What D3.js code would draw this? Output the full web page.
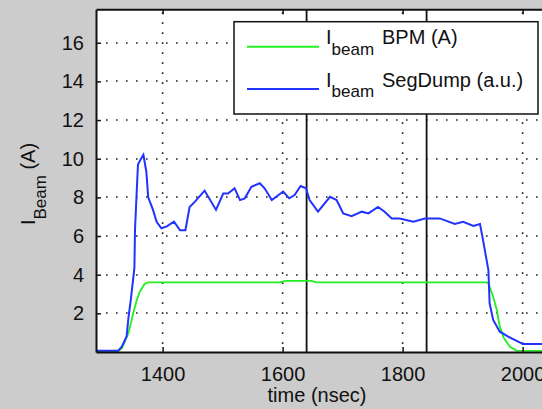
<!DOCTYPE html>
<html lang="en">
  <head>
    <meta charset="utf-8">
    <title>Beam current</title>
    <script src="https://cdn.jsdelivr.net/npm/d3@7"></script>
    <style>
      body { margin: 0; background: #cccccc; }
      text { font-family: "Liberation Sans", Arial, Helvetica, sans-serif; fill: #111; }
    </style>
  </head>
  <body>
    <script>

      /*
      DATA
       */

      // BPM beam current (A)
      const bpm_time = [1289, 1326, 1332, 1343, 1351, 1357, 1362, 1370, 1376, 1595, 1605, 1648, 1656,
        1940, 1943, 1951, 1957, 1962, 1969, 1979, 1990, 2100];
      const bpm_value = [0.05, 0.05, 0.19, 0.97, 2.0, 2.69, 3.12, 3.52, 3.6, 3.6, 3.68, 3.68, 3.6,
        3.6, 3.55, 2.86, 2.17, 1.31, 0.71, 0.27, 0.07, 0.05];

      // SegDump signal (a.u.)
      const seg_time = [1289, 1326, 1332, 1340, 1343, 1347, 1353, 1354, 1357, 1359, 1364, 1368, 1373,
        1376, 1384, 1390, 1398, 1407, 1419, 1429, 1438, 1445, 1454, 1470, 1489, 1501, 1509, 1520,
        1529, 1537, 1548, 1562, 1570, 1582, 1601, 1611, 1620, 1630, 1639, 1645, 1659, 1679, 1690,
        1701, 1715, 1732, 1743, 1759, 1770, 1782, 1795, 1818, 1837, 1862, 1887, 1901, 1918, 1929,
        1933, 1937, 1943, 1945, 1951, 1962, 1976, 1996, 2000, 2100];
      const seg_value = [0.07, 0.07, 0.27, 0.8, 1.75, 2.7, 4.35, 6.3, 8.4, 9.7, 10.0, 10.2, 9.3,
        8.0, 7.35, 6.74, 6.4, 6.5, 6.74, 6.3, 6.3, 7.5, 7.78, 8.35, 7.35, 8.2, 8.2, 8.47,
        7.86, 7.95, 8.55, 8.73, 8.47, 7.86, 8.3, 7.95, 8.12, 8.59, 8.47, 7.86, 7.26, 8.03, 7.86,
        7.17, 7.03, 7.26, 7.17, 7.5, 7.26, 6.91, 6.91, 6.74, 6.91, 6.91, 6.62, 6.74, 6.52, 6.62,
        5.97, 5.28, 4.24, 2.52, 1.66, 1.05, 0.79, 0.48, 0.41, 0.41];

      const x_ticks = [1400, 1600, 1800, 2000];
      const y_ticks = [2, 4, 6, 8, 10, 12, 14, 16];
      const marker_times = [1640, 1840]; // solid vertical markers

      const legend_labels = [
        {main: "I", sub: "beam", rest: "BPM (A)", color: "#22ee22"},
        {main: "I", sub: "beam", rest: "SegDump (a.u.)", color: "#2233ff"}
      ];

      /*
      LAYOUT
       */

      const WIDTH = 542;
      const HEIGHT = 409;
      const AX_LEFT = 96;
      const AX_TOP = 9.3;
      const AX_BOTTOM = 352;
      const AX_RIGHT = 600; // runs past the window edge
      const X_MIN = 1289;
      const X_MAX = X_MIN + (AX_RIGHT - AX_LEFT) / 0.6;
      const Y_MAX = 17.73;
      const TICK_LEN = 5;
      const FONT = 20;

      let svg = d3.select("body").append("svg")
        .attr("width", WIDTH)
        .attr("height", HEIGHT)
        .style("display", "block");

      svg.append("rect")
        .attr("width", WIDTH).attr("height", HEIGHT)
        .attr("fill", "#cccccc");

      let x = d3.scaleLinear().domain([X_MIN, X_MAX]).range([AX_LEFT, AX_RIGHT]);
      let y = d3.scaleLinear().domain([0, Y_MAX]).range([AX_BOTTOM, AX_TOP]);

      // white plot area
      svg.append("rect")
        .attr("x", AX_LEFT).attr("y", AX_TOP)
        .attr("width", AX_RIGHT - AX_LEFT).attr("height", AX_BOTTOM - AX_TOP)
        .attr("fill", "white");

      /* dotted grid */
      let g_grid = svg.append("g")
        .attr("stroke", "#222")
        .attr("stroke-width", 1.6)
        .attr("stroke-dasharray", "1.6,8.4");

      g_grid.selectAll(".hgrid").data(y_ticks).join("line")
        .attr("x1", AX_LEFT + 10).attr("x2", AX_RIGHT)
        .attr("y1", d => Math.round(y(d))).attr("y2", d => Math.round(y(d)));

      g_grid.selectAll(".vgrid").data(x_ticks).join("line")
        .attr("x1", d => x(d)).attr("x2", d => x(d))
        .attr("y1", AX_TOP + 3).attr("y2", AX_BOTTOM);

      /* vertical markers */
      svg.selectAll(".marker").data(marker_times).join("line")
        .attr("x1", d => x(d)).attr("x2", d => x(d))
        .attr("y1", AX_TOP).attr("y2", AX_BOTTOM)
        .attr("stroke", "#111")
        .attr("stroke-width", 1.8);

      /* curves */
      let line = d3.line().x(d => x(d[0])).y(d => y(d[1]));

      let g_plot = svg.append("g");
      g_plot.append("path")
        .datum(d3.zip(bpm_time, bpm_value))
        .attr("d", line)
        .attr("fill", "none")
        .attr("stroke", legend_labels[0].color)
        .attr("stroke-width", 1.8);
      g_plot.append("path")
        .datum(d3.zip(seg_time, seg_value))
        .attr("d", line)
        .attr("fill", "none")
        .attr("stroke", legend_labels[1].color)
        .attr("stroke-width", 2);

      /* axes */
      let x_axis = d3.axisBottom(x).tickValues(x_ticks).tickFormat(d3.format("d"))
        .tickSizeInner(-TICK_LEN).tickSizeOuter(0).tickPadding(15);
      let y_axis = d3.axisLeft(y).tickValues(y_ticks).tickFormat(d3.format("d"))
        .tickSizeInner(-TICK_LEN).tickSizeOuter(0).tickPadding(12);
      let x_axis_top = d3.axisTop(x).tickValues(x_ticks).tickSizeInner(-TICK_LEN).tickSizeOuter(0).tickFormat("");

      function style_axis(g){
        g.select(".domain").attr("stroke", "#111").attr("stroke-width", 2);
        g.selectAll(".tick line").attr("stroke", "#111").attr("stroke-width", 1.5);
        g.selectAll(".tick text")
          .attr("font-size", FONT)
          .attr("font-family", "\"Liberation Sans\", Arial, sans-serif")
          .attr("fill", "#111");
      }

      svg.append("g").attr("transform", "translate(0," + AX_BOTTOM + ")").call(x_axis).call(style_axis);
      svg.append("g").attr("transform", "translate(" + AX_LEFT + ",0)").call(y_axis).call(style_axis);
      svg.append("g").attr("transform", "translate(0," + AX_TOP + ")").call(x_axis_top).call(style_axis);

      /* axis labels */
      svg.append("text")
        .attr("x", 317)
        .attr("y", 402)
        .attr("text-anchor", "middle")
        .attr("font-size", FONT)
        .text("time (nsec)");

      let y_label = svg.append("text")
        .attr("transform", "translate(35,184) rotate(-90)")
        .attr("text-anchor", "middle")
        .attr("font-size", FONT);
      y_label.append("tspan").text("I");
      y_label.append("tspan").attr("dy", 11).attr("font-size", 17).text("Beam");
      y_label.append("tspan").attr("dy", -11).text(" (A)");

      /* legend */
      const LEG_X = 234, LEG_Y = 21.7, LEG_W = 304, LEG_H = 92.3;
      let g_legend = svg.append("g");
      g_legend.append("rect")
        .attr("x", LEG_X).attr("y", LEG_Y)
        .attr("width", LEG_W).attr("height", LEG_H)
        .attr("fill", "white")
        .attr("stroke", "#111")
        .attr("stroke-width", 1.5);

      const LEG_ROWS = [46.7, 89];
      legend_labels.forEach(function(d, i){
        let ly = LEG_ROWS[i];
        g_legend.append("line")
          .attr("x1", 247).attr("x2", 319)
          .attr("y1", ly).attr("y2", ly)
          .attr("stroke", d.color)
          .attr("stroke-width", 2);
        let t = g_legend.append("text")
          .attr("x", 326)
          .attr("y", ly - 2.5)
          .attr("font-size", FONT);
        t.append("tspan").text(d.main);
        t.append("tspan").attr("dy", 10.5).attr("font-size", 17).text(d.sub);
        t.append("tspan").attr("x", 382).attr("dy", -10.5).text(d.rest);
      });

    </script>
  </body>
</html>
